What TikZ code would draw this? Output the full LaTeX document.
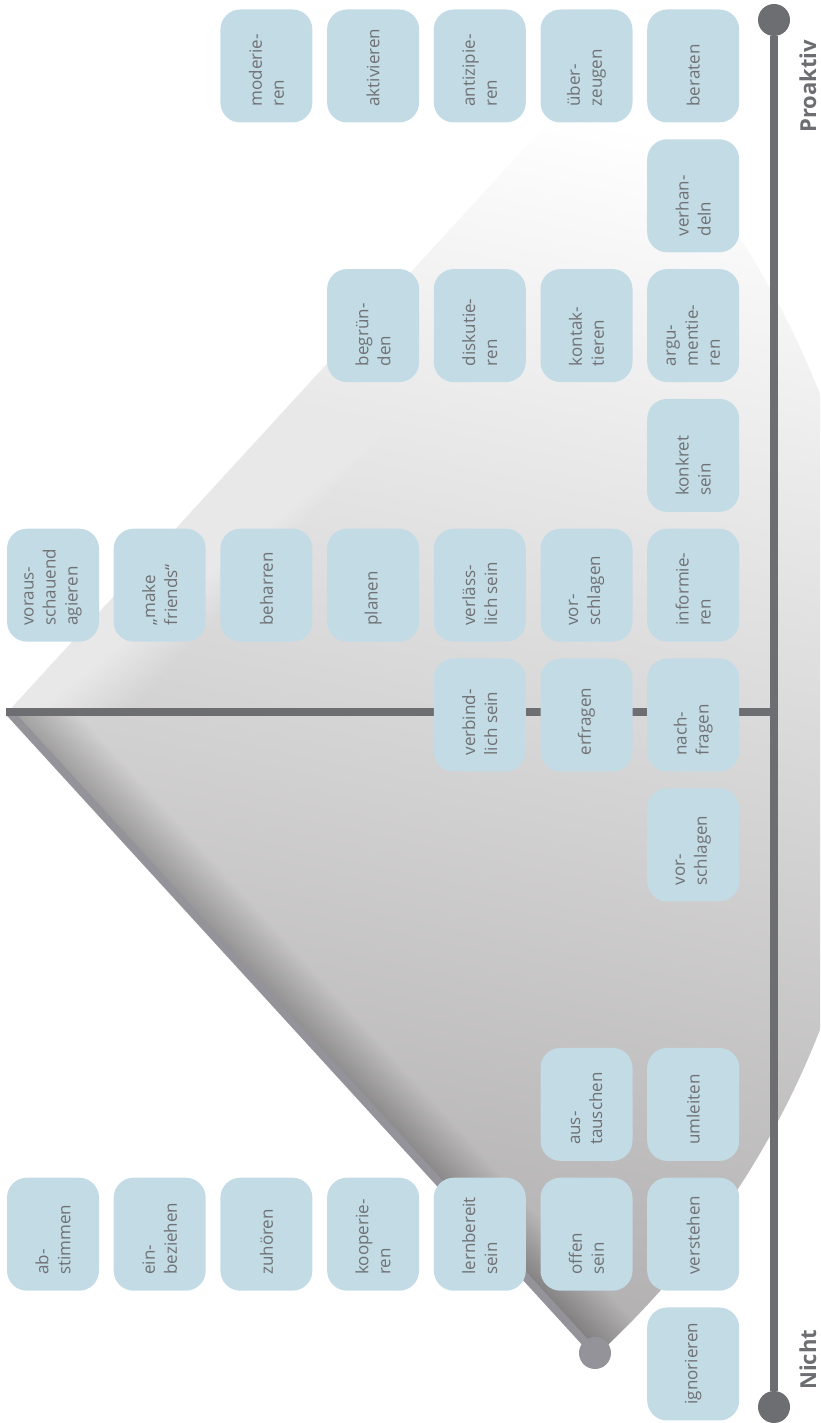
\documentclass[tikz,border=0pt]{standalone}
\usepackage{fontspec}
\setmainfont{Open Sans}
\usetikzlibrary{positioning,calc}
\definecolor{boxblue}{RGB}{194,219,229}
\definecolor{txtgray}{RGB}{112,113,116}
\definecolor{axisgray}{RGB}{109,110,113}
\definecolor{diaggray}{RGB}{147,147,153}
\definecolor{fanmid}{RGB}{221,220,220}
\definecolor{fanlow}{RGB}{176,174,174}

\tikzset{
  verb/.style={fill=boxblue, rounded corners=20pt, minimum width=92pt,
    minimum height=113pt, inner sep=0pt},
  verbtext/.style={rotate=90, anchor=west, align=left, inner sep=0pt,
    text=txtgray, font=\fontsize{17}{22}\selectfont},
  axislbl/.style={rotate=90, anchor=base west, inner sep=0pt,
    text=axisgray, font=\fontsize{22}{26}\selectfont\bfseries},
  knob/.style={circle, minimum size=32pt, inner sep=0pt},
}

\begin{document}
\begin{tikzpicture}[x=1pt, y=1pt]
\useasboundingbox (0,0) rectangle (820,1423);
\coordinate (apex) at (6,711);
\coordinate (barend) at (774,711);
% fan behind everything
\begin{scope}
  \clip (0,0) rectangle (820,1423);
  \clip (8,711) -- ++(-47.5:872) arc[start angle=-47.5, end angle=47.5, radius=872] -- cycle;
  \shade[top color=white, middle color=fanmid, bottom color=fanlow, shading angle=-12]
    (8,711) -- ++(-47.5:872) arc[start angle=-47.5, end angle=47.5, radius=872] -- cycle;
  % soft upper edge
  \begin{scope}
    \clip (0,711) rectangle (820,1423);
    \foreach \d in {2,5,...,89}
      \fill[white, opacity=0.045, shift={(8,711)}, rotate=47.5] (0,-\d) rectangle (1000,60);
  \end{scope}
  % shadow along the slope
  \begin{scope}
    \clip (0,0) rectangle (820,711);
    \foreach \d in {2,4,...,50}
      \fill[black, opacity=0.007, shift={(8,711)}, rotate=-47.5] (0,-60) rectangle (1000,\d);
  \end{scope}
\end{scope}
% axes
\node[knob, fill=diaggray] (lowdot) at (595,70) {};
\node[knob, fill=axisgray] (prodot) at (774,1403) {};
\node[knob, fill=axisgray] (nichtdot) at (774,16) {};
\draw[diaggray, line width=8pt] ([xshift=3pt]apex) -- (lowdot.center);
\draw[axisgray, line width=8pt] (apex) -- (barend);
\draw[axisgray, line width=7.5pt] (prodot) -- (nichtdot);
% verbs, column/row/text
\foreach \j/\k/\t in {2/0/{moderie-\\ren}, 3/0/{aktivieren}, 4/0/{antizipie-\\ren},
    5/0/{über-\\zeugen}, 6/0/{beraten},
    6/1/{verhan-\\deln},
    3/2/{begrün-\\den}, 4/2/{diskutie-\\ren}, 5/2/{kontak-\\tieren}, 6/2/{argu-\\mentie-\\ren},
    6/3/{konkret\\sein},
    0/4/{voraus-\\schauend\\agieren}, 1/4/{„make\\friends“}, 2/4/{beharren}, 3/4/{planen},
    4/4/{verläss-\\lich sein}, 5/4/{vor-\\schlagen}, 6/4/{informie-\\ren},
    4/5/{verbind-\\lich sein}, 5/5/{erfragen}, 6/5/{nach-\\fragen},
    6/6/{vor-\\schlagen},
    5/8/{aus-\\tauschen}, 6/8/{umleiten},
    0/9/{ab-\\stimmen}, 1/9/{ein-\\beziehen}, 2/9/{zuhören}, 3/9/{kooperie-\\ren},
    4/9/{lernbereit\\sein}, 5/9/{offen\\sein}, 6/9/{verstehen},
    6/10/{ignorieren}} {
  \node[verb] (v\j-\k) at (53+106.7*\j, 1357-129.8*\k) {};
  \node[verbtext] (t\j-\k) at ($(v\j-\k.south)+(0,16)$) {\t};
}
\node[axislbl] (proaktiv) at (816,1290) {Proaktiv};
\node[axislbl] (nicht) at (816,33) {Nicht};
\end{tikzpicture}
\end{document}
